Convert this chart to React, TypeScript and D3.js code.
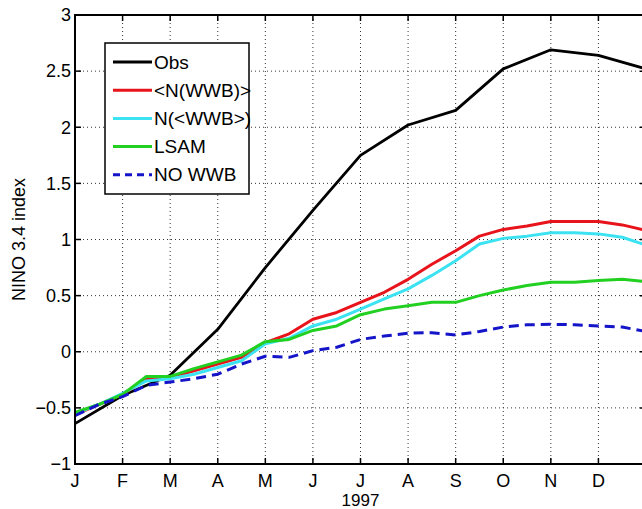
import React from 'react';
import * as d3 from 'd3';

// month labels along the x axis (1997)
const months = ['J', 'F', 'M', 'A', 'M', 'J', 'J', 'A', 'S', 'O', 'N', 'D'];
const yTicks = [-1, -0.5, 0, 0.5, 1, 1.5, 2, 2.5, 3];

// observed index, monthly
const obsT = [0, 1, 2, 3, 4, 5, 6, 7, 8, 9, 10, 11, 12];
const obs = [-0.64, -0.39, -0.21, 0.2, 0.75, 1.26, 1.75, 2.02, 2.15, 2.52, 2.69, 2.64, 2.52];

// model runs, half-month steps
const simT = [0, 0.5, 1, 1.5, 2, 2.5, 3, 3.5, 4, 4.5, 5, 5.5, 6, 6.5, 7, 7.5, 8, 8.5, 9, 9.5, 10, 10.5, 11, 11.5, 12];
const nWwb = [-0.56, -0.47, -0.38, -0.24, -0.23, -0.17, -0.11, -0.05, 0.08, 0.16, 0.29, 0.35, 0.44, 0.53, 0.645, 0.78, 0.9, 1.03, 1.09, 1.12, 1.16, 1.16, 1.16, 1.13, 1.08];
const nMeanWwb = [-0.55, -0.47, -0.37, -0.26, -0.24, -0.2, -0.14, -0.08, 0.07, 0.12, 0.23, 0.29, 0.38, 0.47, 0.56, 0.68, 0.81, 0.96, 1.01, 1.03, 1.06, 1.06, 1.05, 1.02, 0.95];
const lsam = [-0.54, -0.47, -0.38, -0.22, -0.22, -0.15, -0.09, -0.03, 0.09, 0.11, 0.19, 0.23, 0.33, 0.38, 0.41, 0.44, 0.44, 0.5, 0.55, 0.59, 0.62, 0.62, 0.635, 0.645, 0.625];
const noWwb = [-0.57, -0.47, -0.4, -0.3, -0.27, -0.24, -0.2, -0.11, -0.04, -0.05, 0.01, 0.04, 0.11, 0.14, 0.165, 0.17, 0.15, 0.18, 0.22, 0.24, 0.245, 0.24, 0.23, 0.22, 0.18];

const legendNames = ['Obs', '<N(WWB)>', 'N(<WWB>)', 'LSAM', 'NO WWB'];

const font = '"Liberation Sans", Arial, Helvetica, sans-serif';

export default function App() {
  const width = 642;
  const height = 509;
  const left = 75, right = 646, top = 15, bottom = 464;

  const x = d3.scaleLinear().domain([0, 12]).range([left, right]);
  const y = d3.scaleLinear().domain([-1, 3]).range([bottom, top]);

  const line = (ts: number[], vs: number[]) =>
    d3.line<number>().x((_, i) => x(ts[i])).y(d => y(d))(vs) || '';

  const series = [
    { name: legendNames[0], d: line(obsT, obs), color: '#000', w: 2.8, dash: undefined },
    { name: legendNames[1], d: line(simT, nWwb), color: '#e8141c', w: 3, dash: undefined },
    { name: legendNames[2], d: line(simT, nMeanWwb), color: '#3be3f2', w: 3, dash: undefined },
    { name: legendNames[3], d: line(simT, lsam), color: '#22d022', w: 3, dash: undefined },
    { name: legendNames[4], d: line(simT, noWwb), color: '#1414c8', w: 3, dash: '10,6' },
  ];

  const xTickVals = d3.range(0, 13);
  const fmt = (v: number) => String(v).replace('-', '\u2212');

  return (
    <svg width={width} height={height} style={{ position: 'absolute', left: 0, top: 0, background: '#fff' }}>
      <rect x={0} y={0} width={width} height={height} fill="#fff" />
      {/* grid */}
      <g stroke="#333" strokeWidth={1} strokeDasharray="1,3">
        {xTickVals.slice(1).map(t => (
          <line key={'gx' + t} x1={x(t)} x2={x(t)} y1={top} y2={bottom} />
        ))}
        {yTicks.slice(1, -1).map(v => (
          <line key={'gy' + v} x1={left} x2={right} y1={y(v)} y2={y(v)} />
        ))}
      </g>
      {/* ticks */}
      <g stroke="#000" strokeWidth={1.5}>
        {xTickVals.map(t => (
          <g key={'tx' + t}>
            <line x1={x(t)} x2={x(t)} y1={bottom} y2={bottom - 6} />
            <line x1={x(t)} x2={x(t)} y1={top} y2={top + 6} />
          </g>
        ))}
        {yTicks.map(v => (
          <g key={'ty' + v}>
            <line x1={left} x2={left + 6} y1={y(v)} y2={y(v)} />
            <line x1={right} x2={right - 6} y1={y(v)} y2={y(v)} />
          </g>
        ))}
      </g>
      {/* data */}
      <g fill="none" strokeLinejoin="round">
        {series.map(s => (
          <path key={s.name} d={s.d} stroke={s.color} strokeWidth={s.w} strokeDasharray={s.dash} />
        ))}
      </g>
      {/* frame */}
      <rect x={left} y={top} width={right - left} height={bottom - top} fill="none" stroke="#000" strokeWidth={2} />
      {/* tick labels */}
      <g fontFamily={font} fontSize={18} fill="#000">
        {yTicks.map(v => (
          <text key={'ly' + v} x={left - 4} y={y(v)} dy="0.35em" textAnchor="end">{fmt(v)}</text>
        ))}
        {months.map((m, i) => (
          <text key={'lx' + i} x={x(i)} y={487} textAnchor="middle">{m}</text>
        ))}
        <text x={x(6)} y={506} textAnchor="middle" fontSize={17}>1997</text>
        <text transform={`translate(25,${(top + bottom) / 2}) rotate(-90)`} textAnchor="middle" fontSize={18}>NINO 3.4 index</text>
      </g>
      {/* legend */}
      <g fontFamily={font} fontSize={19}>
        <rect x={105} y={43} width={144} height={151} fill="#fff" stroke="#000" strokeWidth={1.5} />
        {series.map((s, i) => (
          <g key={'lg' + s.name} transform={`translate(0,${62 + i * 28.2})`}>
            <line x1={113} x2={152} y1={0} y2={0} stroke={s.color} strokeWidth={s.w} strokeDasharray={s.dash ? '7,5' : undefined} />
            <text x={154} y={0} dy="0.35em" fill="#000">{s.name}</text>
          </g>
        ))}
      </g>
    </svg>
  );
}
